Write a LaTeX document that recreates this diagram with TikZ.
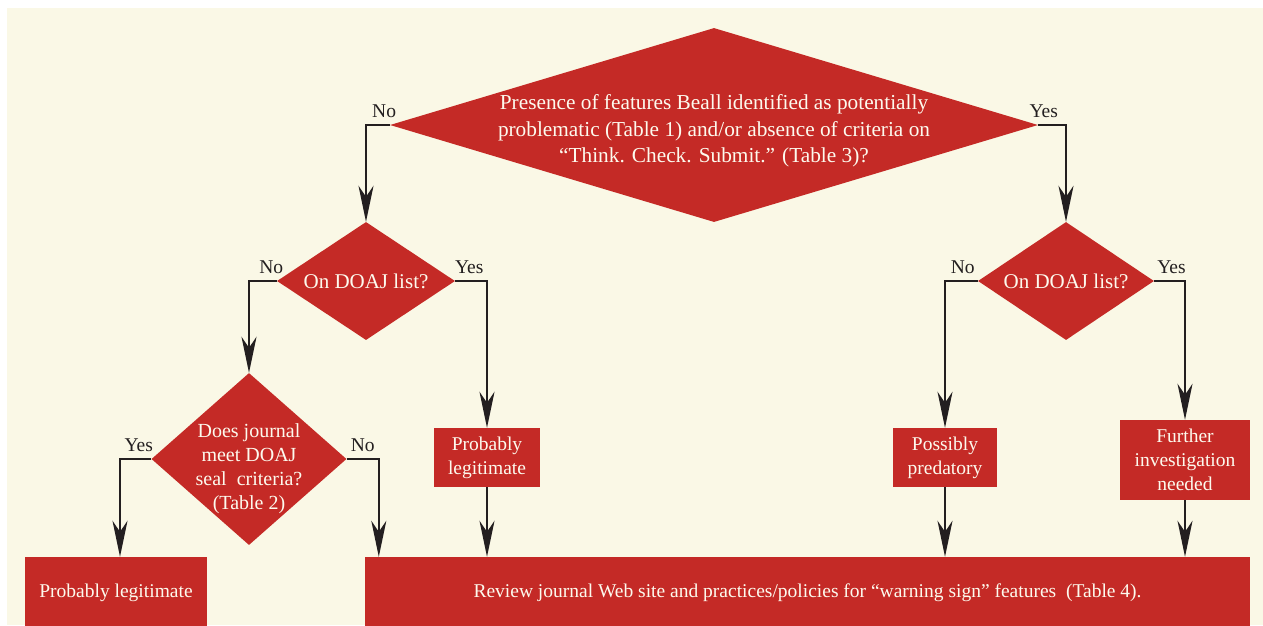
\documentclass[tikz,border=0pt]{standalone}
\usepackage{fontspec}
\setmainfont{Liberation Serif}
\usetikzlibrary{arrows.meta, shapes.geometric, positioning}

\definecolor{flowred}{RGB}{196,42,38}
\definecolor{cream}{RGB}{250,248,230}
\definecolor{paper}{RGB}{253,250,238}
\definecolor{ink}{RGB}{35,31,32}

\tikzset{
  dia/.style={diamond, fill=flowred, text=paper, inner sep=-15pt, align=center,
    font=\fontsize{21}{24}\selectfont},
  box/.style={rectangle, fill=flowred, text=paper, inner sep=0pt, align=center,
    font=\fontsize{19.5}{24}\selectfont},
  arr/.style={draw=ink, line width=2.6pt, -{Stealth[length=36pt, width=15pt, inset=11pt]}},
  yn/.style={above, inner sep=0pt, yshift=6pt, text=ink, font=\fontsize{19.5}{22}\selectfont}
}

\begin{document}
\begin{tikzpicture}[x=1pt, y=-1pt]
  \useasboundingbox (0,0) rectangle (1263,625);
  \fill[cream] (7,8) rectangle (1263,625);

  % questions
  \node[dia, shape aspect=3.34, minimum width=648, minimum height=194,
        font=\fontsize{21.3}{26.5}\selectfont] (main) at (714,125)
    {\rule{0pt}{27pt}Presence of features Beall identified as potentially\\
     problematic (Table 1) and/or absence of criteria on\\
     “Think. Check. Submit.” (Table 3)?};
  \node[dia, shape aspect=1.5, minimum width=178, minimum height=118] (doajL) at (366,281) {On DOAJ list?};
  \node[dia, shape aspect=1.5, minimum width=176, minimum height=118] (doajR) at (1066,281) {On DOAJ list?};
  \node[dia, shape aspect=1.13, minimum width=195, minimum height=172,
        font=\fontsize{20}{24}\selectfont] (seal) at (249,459)
    {\rule{0pt}{34pt}Does journal\\ meet DOAJ\\ seal~~criteria?\\ (Table 2)};

  % outcomes
  \node[box, minimum width=182, minimum height=72] (legitL) at (116,593) {Probably legitimate};
  \node[box, minimum width=885, minimum height=72] (review) at (807.5,593)
    {Review journal Web site and practices/policies for “warning sign” features~~(Table 4).};
  \node[box, minimum width=106, minimum height=59] (legitM) at (487,457.5) {Probably\\ legitimate};
  \node[box, minimum width=104, minimum height=59] (pred) at (945,457.5) {Possibly\\ predatory};
  \node[box, minimum width=130, minimum height=80] (further) at (1185,460) {Further\\ investigation\\ needed};

  % connectors
  \draw[arr] (main.west) -| node[yn, pos=0.12] {No} (doajL.north);
  \draw[arr] (main.east) -| node[yn, pos=0.1] {Yes} (doajR.north);
  \draw[arr] (doajL.west) -| node[yn, pos=0.1] {No} (seal.north);
  \draw[arr] (doajL.east) -| node[yn, pos=0.22] {Yes} (legitM.north);
  \draw[arr] (seal.west) -| node[yn, pos=0.2] {Yes} ([xshift=4pt]legitL.north);
  \draw[arr] (seal.east) -| node[yn, pos=0.25] {No} ([xshift=14pt]review.north west);
  \draw[arr] (doajR.west) -| node[yn, pos=0.23] {No} (pred.north);
  \draw[arr] (doajR.east) -| node[yn, pos=0.28] {Yes} (further.north);
  \draw[arr] (legitM.south) -- (legitM.south |- review.north);
  \draw[arr] (pred.south) -- (pred.south |- review.north);
  \draw[arr] (further.south) -- (further.south |- review.north);
\end{tikzpicture}
\end{document}
